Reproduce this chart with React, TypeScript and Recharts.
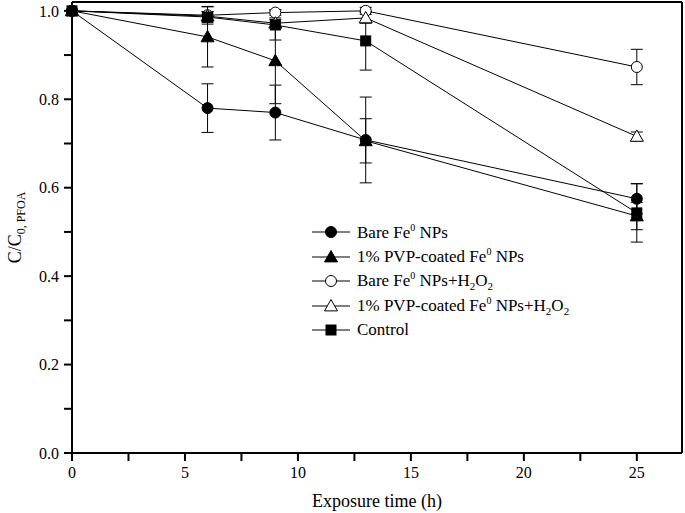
import React from 'react';
import {
  LineChart,
  Line,
  XAxis,
  YAxis,
  ErrorBar,
  Label,
  Legend,
  ReferenceLine
} from 'recharts';

const FONT = '"Liberation Serif", "Times New Roman", serif';

// exposure time (h)
const times = [0, 6, 9, 13, 25];

// C/C0 values
const bareNP = [1.0, 0.78, 0.77, 0.708, 0.575];
const bareNPErr = [0, 0.055, 0.062, 0.097, 0.034];
const pvpNP = [1.0, 0.941, 0.887, 0.706, 0.536];
const pvpNPErr = [0, 0.068, 0.097, 0.05, 0.031];
const bareH2O2 = [1.0, 0.99, 0.996, 1.0, 0.873];
const bareH2O2Err = [0, 0.02, 0.006, 0.008, 0.04];
const pvpH2O2 = [1.0, 0.988, 0.972, 0.984, 0.716];
const pvpH2O2Err = [0, 0.01, 0.008, 0.012, 0.01];
const control = [1.0, 0.986, 0.968, 0.932, 0.543];
const controlErr = [0, 0.012, 0.034, 0.066, 0.066];

const xTicks = [0, 2.5, 5, 7.5, 10, 12.5, 15, 17.5, 20, 22.5, 25];
const yTicks = [0, 0.1, 0.2, 0.3, 0.4, 0.5, 0.6, 0.7, 0.8, 0.9, 1.0];

const data = times.map((t, i) => ({
  t,
  bareNP: bareNP[i],
  bareNPErr: bareNPErr[i],
  pvpNP: pvpNP[i],
  pvpNPErr: pvpNPErr[i],
  bareH2O2: bareH2O2[i],
  bareH2O2Err: bareH2O2Err[i],
  pvpH2O2: pvpH2O2[i],
  pvpH2O2Err: pvpH2O2Err[i],
  control: control[i],
  controlErr: controlErr[i]
}));

type Shape = 'circle' | 'triangle' | 'square';

function marker(shape: Shape, filled: boolean, cx: number, cy: number, key?: string) {
  const fill = filled ? '#000' : '#fff';
  if (shape === 'circle') {
    return <circle key={key} cx={cx} cy={cy} r={5.5} fill={fill} stroke="#000" strokeWidth={1} />;
  }
  if (shape === 'triangle') {
    const s = 6.5;
    const pts = `${cx},${cy - s} ${cx - s},${cy + s * 0.75} ${cx + s},${cy + s * 0.75}`;
    return <polygon key={key} points={pts} fill={fill} stroke="#000" strokeWidth={1} />;
  }
  return <rect key={key} x={cx - 5} y={cy - 5} width={10} height={10} fill={fill} stroke="#000" strokeWidth={1} />;
}

const series = [
  { key: 'bareNP', shape: 'circle' as Shape, filled: true, label: ['Bare Fe', '0', ' NPs', '', ''] },
  { key: 'pvpNP', shape: 'triangle' as Shape, filled: true, label: ['1% PVP-coated Fe', '0', ' NPs', '', ''] },
  { key: 'bareH2O2', shape: 'circle' as Shape, filled: false, label: ['Bare Fe', '0', ' NPs+H', '2', 'O'] },
  { key: 'pvpH2O2', shape: 'triangle' as Shape, filled: false, label: ['1% PVP-coated Fe', '0', ' NPs+H', '2', 'O'] },
  { key: 'control', shape: 'square' as Shape, filled: true, label: ['Control', '', '', '', ''] }
];

function LegendBox() {
  return (
    <div style={{ fontFamily: FONT, fontSize: 17, color: '#000' }}>
      {series.map((s) => (
        <div key={s.key} style={{ display: 'flex', alignItems: 'center', height: 24.5 }}>
          <svg width={40} height={16} style={{ marginRight: 5 }}>
            <line x1={0} y1={8} x2={38} y2={8} stroke="#000" strokeWidth={1} />
            {marker(s.shape, s.filled, 19, 8)}
          </svg>
          <span style={{ whiteSpace: 'nowrap' }}>
            {s.label[0]}
            {s.label[1] && <sup style={{ fontSize: 10 }}>{s.label[1]}</sup>}
            {s.label[2]}
            {s.label[3] && <sub style={{ fontSize: 11 }}>{s.label[3]}</sub>}
            {s.label[4]}
            {s.label[4] && <sub style={{ fontSize: 11 }}>2</sub>}
          </span>
        </div>
      ))}
    </div>
  );
}

function YTitle(props: any) {
  const { viewBox } = props;
  const x = viewBox.x + 21;
  const y = viewBox.y + viewBox.height / 2;
  return (
    <text
      x={x}
      y={y}
      transform={`rotate(-90, ${x}, ${y})`}
      textAnchor="middle"
      fontFamily={FONT}
      fontSize={18}
      fill="#000"
    >
      C/C
      <tspan fontSize={12} dy={4}>0, PFOA</tspan>
    </text>
  );
}

export default function App() {
  return (
    <div style={{ position: 'absolute', left: 0, top: 0, width: 685, height: 513, background: '#fff' }}>
      <LineChart
        width={685}
        height={513}
        data={data}
        margin={{ top: 2, right: 3, left: 0, bottom: 0 }}
      >
        <XAxis
          dataKey="t"
          type="number"
          domain={[0, 27]}
          ticks={xTicks}
          interval={0}
          height={60}
          tickSize={8}
          tickMargin={6}
          stroke="#000"
          strokeWidth={2}
          tickFormatter={(v: number) => (v % 5 === 0 ? String(v) : '')}
          tick={{ fill: '#000', fontFamily: FONT, fontSize: 16 }}
        >
          <Label
            value="Exposure time (h)"
            position="insideBottom"
            offset={6}
            style={{ fontFamily: FONT, fontSize: 18, fill: '#000' }}
          />
        </XAxis>
        <YAxis
          type="number"
          domain={[0, 1.02]}
          ticks={yTicks}
          interval={0}
          width={72}
          tickSize={8}
          tickMargin={5}
          stroke="#000"
          strokeWidth={2}
          tickFormatter={(v: number) => (Math.round(v * 10) % 2 === 0 ? v.toFixed(1) : '')}
          tick={{ fill: '#000', fontFamily: FONT, fontSize: 16 }}
        >
          <Label content={<YTitle />} />
        </YAxis>
        <ReferenceLine y={1.02} stroke="#000" strokeWidth={2} />
        <ReferenceLine x={27} stroke="#000" strokeWidth={2} />
        <Legend
          layout="vertical"
          align="center"
          verticalAlign="middle"
          wrapperStyle={{ left: 312, top: 220, width: 'auto' }}
          content={() => <LegendBox />}
        />
        {series.map((s) => (
          <Line
            key={s.key}
            dataKey={s.key}
            stroke="#000"
            strokeWidth={1}
            isAnimationActive={false}
            dot={(p: any) => marker(s.shape, s.filled, p.cx, p.cy, `${s.key}-${p.index}`)}
            activeDot={false}
          >
            <ErrorBar dataKey={`${s.key}Err`} width={6} stroke="#000" strokeWidth={1} direction="y" />
          </Line>
        ))}
      </LineChart>
    </div>
  );
}
